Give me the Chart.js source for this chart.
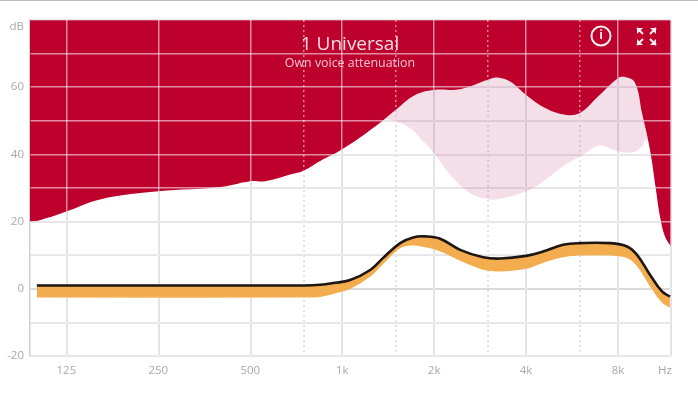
<!DOCTYPE html>
<html>
<head>
<meta charset="utf-8">
<title>Own voice attenuation</title>
<script src="https://cdn.jsdelivr.net/npm/chart.js@4"></script>
<style>
    html, body { margin: 0; padding: 0; background: #fff; overflow: hidden; }
    #wrap { position: relative; width: 698px; height: 393px; }
    #wrap::before { content: ""; position: absolute; left: 0; top: 0; width: 100%; height: 1px; background: #bcbcbc; z-index: 2; }
    canvas { filter: blur(0.5px); }
</style>
</head>
<body>
<div id="wrap"><canvas id="myChart" width="698" height="393"></canvas></div>
<script>
// values
let freqTicks = [95, 125, 250, 500, 750, 1000, 1500, 2000, 3000, 4000, 6000, 8000, 11400, 11930]
let freqLabels = { 125: "125", 250: "250", 500: "500", 1000: "1k", 2000: "2k", 4000: "4k", 8000: "8k", 11400: "Hz" }
let dottedFreqs = [750, 1500, 3000, 6000]
let dbTicks = [-20, -10, 0, 10, 20, 30, 40, 50, 60, 70, 78, 80]
let dbLabels = { "-20": "-20", 0: "0", 20: "20", 40: "40", 60: "60", 78: "dB" }

let limitFreq = [95, 103, 125, 161, 250, 399, 500, 560, 676, 750, 847, 1000, 1282, 1500, 1733, 2000, 2433, 3000, 3216, 3544, 4000, 4618, 5368, 6000, 6880, 8000, 8436, 9090, 9586, 10180, 10650, 10980, 11400, 11930]
let limitDb = [20, 20.5, 23, 26.6, 29, 30.3, 32, 32, 34, 35.2, 38, 41.5, 48.3, 53.3, 57.7, 59.2, 59.4, 62.2, 62.9, 61.7, 57.7, 53.8, 51.8, 52.3, 57.2, 62.7, 63, 61.3, 52.3, 41.4, 29.5, 21.5, 15.6, 12.6]

let openFreq = [1382, 1500, 1669, 1869, 2000, 2256, 2623, 3000, 3289, 4000, 4618, 5368, 6000, 6880, 7255, 8000, 8890, 9586, 9800, 10050]
let openDb = [50.5, 49.8, 47.8, 43.3, 40.4, 34, 28.5, 26.7, 26.8, 29, 32.4, 36.9, 39.4, 42.6, 42.4, 40.9, 40.6, 42.3, 44.3, 44.2]

let gainFreq = [100, 750, 847, 934, 1062, 1235, 1362, 1548, 1707, 1869, 2093, 2433, 2894, 3289, 4000, 4547, 5286, 6009, 7533, 8563, 9234, 10180, 11146, 11836]
let gainDb = [1, 1, 1.2, 1.7, 2.6, 5.6, 9.2, 13.6, 15.3, 15.6, 14.9, 11.6, 9.4, 9, 9.8, 11.1, 13.1, 13.6, 13.6, 12.6, 10.1, 4.2, -0.8, -2.3]
let targetLowDb = [-2.4, -2.4, -2.2, -1.3, 0.2, 3.9, 7.7, 12.3, 13.1, 12.6, 11.4, 8.6, 5.9, 5.4, 6.2, 8, 9.6, 10.1, 10.1, 9.4, 7.1, 1.2, -3.8, -5.4]

function toPoints(xs, ys) {
    return xs.map((x, i) => ({ x: x, y: ys[i] }))
}

function curve(label, xs, ys, extra) {
    return Object.assign({
        label: label,
        data: toPoints(xs, ys),
        pointRadius: 0,
        borderWidth: 0,
        tension: 0.4
    }, extra)
}

// grid lines show pink on the red area: draw them again with screen over it
let pinkGrid = {
    id: "pinkGrid",
    afterDatasetDraw(chart, args) {
        if (args.index !== 0) return
        let c = chart.ctx
        c.save()
        c.globalCompositeOperation = "screen"
        c.globalAlpha = 0.68
        chart.scales.x.drawGrid(chart.chartArea)
        chart.scales.y.drawGrid(chart.chartArea)
        c.restore()
    }
}

let overlayText = {
    id: "overlayText",
    afterDraw(chart) {
        let c = chart.ctx
        c.save()
        c.textAlign = "center"
        c.textBaseline = "middle"
        c.fillStyle = "#f6dde3"
        c.font = "19px 'Open Sans'"
        c.fillText("1 Universal", 350, 45)
        c.fillStyle = "#f3c3cf"
        c.font = "12.4px 'Open Sans'"
        c.fillText("Own voice attenuation", 350, 63)

        // info button
        c.strokeStyle = "#fbeef1"
        c.fillStyle = "#fbeef1"
        c.lineWidth = 2
        c.beginPath()
        c.arc(601, 36, 9.5, 0, Math.PI * 2)
        c.stroke()
        c.font = "bold 12px 'Open Sans'"
        c.fillText("i", 601, 36)

        // fullscreen button
        let corners = [[637, 28, 1, 1], [656, 28, -1, 1], [637, 45, 1, -1], [656, 45, -1, -1]]
        corners.forEach(([x, y, dx, dy]) => {
            c.beginPath()
            c.moveTo(x + dx * 6, y)
            c.lineTo(x, y)
            c.lineTo(x, y + dy * 6)
            c.closePath()
            c.fill()
            c.beginPath()
            c.moveTo(x, y)
            c.lineTo(x + dx * 6, y + dy * 6)
            c.stroke()
        })
        c.restore()
    }
}

let ctx = document.getElementById("myChart")

new Chart(ctx, {
    type: "line",
    data: {
        datasets: [
            curve("Limit", limitFreq, limitDb, { order: 5, fill: "end", backgroundColor: "#bd002c", borderColor: "#bd002c" }),
            curve("Open", openFreq, openDb, { order: 4, fill: { target: 0 }, backgroundColor: "rgba(178, 20, 90, 0.14)", borderColor: "transparent" }),
            curve("Target low", gainFreq, targetLowDb, { order: 3, fill: { target: 3 }, backgroundColor: "#f4ad4e", borderColor: "#f4ad4e", borderWidth: 1.5 }),
            curve("Gain", gainFreq, gainDb, { order: 1, borderColor: "#1d1613", borderWidth: 2.6 })
        ]
    },
    options: {
        responsive: false,
        animation: false,
        layout: { padding: { top: 20, right: 27, left: 0, bottom: 0 } },
        plugins: {
            legend: { display: false },
            tooltip: { enabled: false }
        },
        scales: {
            x: {
                type: "logarithmic",
                min: 95,
                max: 11930,
                afterBuildTicks(scale) {
                    scale.ticks = freqTicks.map((v) => ({ value: v }))
                },
                afterFit(scale) {
                    scale.height = 37
                },
                ticks: {
                    autoSkip: false,
                    maxRotation: 0,
                    padding: 8,
                    color: "#a9a9a9",
                    font: { family: "Open Sans", size: 11.5 },
                    callback: (v) => freqLabels[v] || ""
                },
                grid: {
                    drawTicks: false,
                    lineWidth: 1.5,
                    color: (c) => {
                        if (c.tick.value === 95 || c.tick.value === 11400) return "transparent"
                        return dottedFreqs.includes(c.tick.value) ? "#c4c4ca" : "#c8c8d0"
                    }
                },
                border: {
                    display: false,
                    dash: (c) => c.tick && dottedFreqs.includes(c.tick.value) ? [2, 3] : []
                }
            },
            y: {
                min: -20,
                max: 80,
                afterBuildTicks(scale) {
                    scale.ticks = dbTicks.map((v) => ({ value: v }))
                },
                afterFit(scale) {
                    scale.width = 30
                },
                ticks: {
                    autoSkip: false,
                    padding: 6,
                    color: "#a9a9a9",
                    font: { family: "Open Sans", size: 11.5 },
                    callback: (v) => dbLabels[v] || ""
                },
                grid: {
                    drawTicks: false,
                    lineWidth: (c) => c.tick.value === 0 ? 2 : 1.5,
                    color: (c) => {
                        if (c.tick.value === 78) return "transparent"
                        return c.tick.value === 0 ? "#b8b8bc" : "#ceced4"
                    }
                },
                border: { display: true, color: "#d0d0d6", width: 1.5 }
            }
        }
    },
    plugins: [pinkGrid, overlayText]
})
</script>
</body>
</html>
